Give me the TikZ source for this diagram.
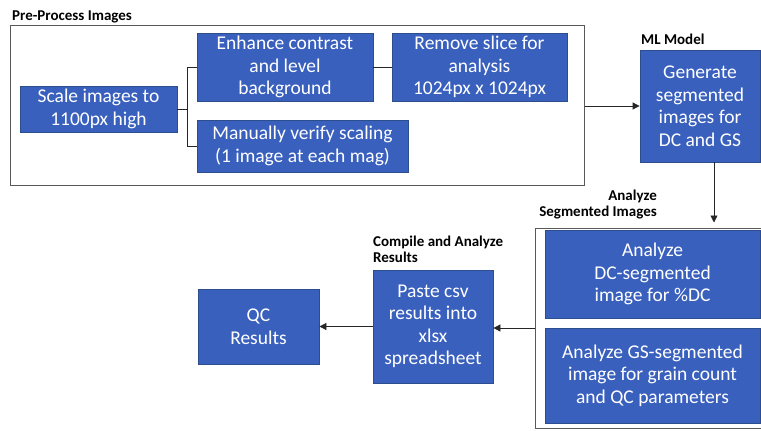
\documentclass[tikz,border=0pt]{standalone}
\usepackage{fontspec}
\setmainfont{Carlito}
\usetikzlibrary{arrows.meta}
\definecolor{stepblue}{RGB}{58,96,190}
\definecolor{stepedge}{RGB}{45,78,140}
\tikzset{
  stepbox/.style={draw=stepedge, line width=0.8pt, fill=stepblue, text=white,
    align=center, inner sep=0pt, font=\fontsize{19.5}{22.5}\selectfont},
  groupbox/.style={draw=black!65, line width=1pt, inner sep=0pt},
  grouplabel/.style={font=\bfseries\fontsize{15}{16.5}\selectfont, inner sep=0pt},
  link/.style={line width=0.8pt, draw=black!85},
  flow/.style={link, -{Triangle[length=7pt,width=7pt]}}
}
\begin{document}
\begin{tikzpicture}[x=1pt,y=-1pt]
  \useasboundingbox (0,0) rectangle (761,431);

  \node[groupbox, minimum width=574, minimum height=160] (pre) at (297,105) {};
  \node[groupbox, minimum width=240, minimum height=200] (ana) at (655,328) {};

  \node[grouplabel, anchor=base west] (prelabel) at (12,20) {Pre-Process Images};
  \node[grouplabel, anchor=base west] (mllabel) at (641,45) {ML Model};
  \node[grouplabel, anchor=south east, align=right] (analabel) at (657,219.5) {Analyze\\Segmented Images};
  \node[grouplabel, anchor=south west, align=left] (complabel) at (373,263) {Compile and Analyze\\Results};

  \node[stepbox, minimum width=157, minimum height=46] (scale) at (98.5,109) {Scale images to\\1100px high};
  \node[stepbox, minimum width=176, minimum height=68] (enhance) at (285,67) {Enhance contrast\\and level\\background};
  \node[stepbox, minimum width=211, minimum height=52] (manual) at (302.5,146) {Manually verify scaling\\(1 image at each mag)};
  \node[stepbox, minimum width=175, minimum height=68] (remove) at (479.5,67) {Remove slice for\\analysis\\1024px x 1024px};
  \node[stepbox, minimum width=120, minimum height=112] (ml) at (700,106) {Generate\\segmented\\images for\\DC and GS};
  \node[stepbox, minimum width=215, minimum height=88] (dc) at (652.5,274) {Analyze\\DC-segmented\\image for \%DC};
  \node[stepbox, minimum width=215, minimum height=95] (gs) at (652.5,375.5) {Analyze GS-segmented\\image for grain count\\and QC parameters};
  \node[stepbox, minimum width=120, minimum height=113] (paste) at (433,326.5) {Paste csv\\results into\\xlsx\\spreadsheet};
  \node[stepbox, minimum width=121, minimum height=75] (qc) at (258.5,326.5) {QC\\Results};

  \draw[link] (scale.east) -- ++(10,0) coordinate (fork) |- (enhance.west);
  \draw[link] (fork) |- (manual.west);
  \draw[link] (enhance.east) -- (remove.west);

  \draw[flow] (pre.east |- ml.west) -- (ml.west);
  \draw[flow, shorten >=5pt] ([xshift=14]ml.south) -- ([xshift=14]ml.south |- ana.north);
  \draw[flow] (ana.west) -- (ana.west -| paste.east);
  \draw[flow] (paste.west) -- (qc.east);
\end{tikzpicture}
\end{document}
